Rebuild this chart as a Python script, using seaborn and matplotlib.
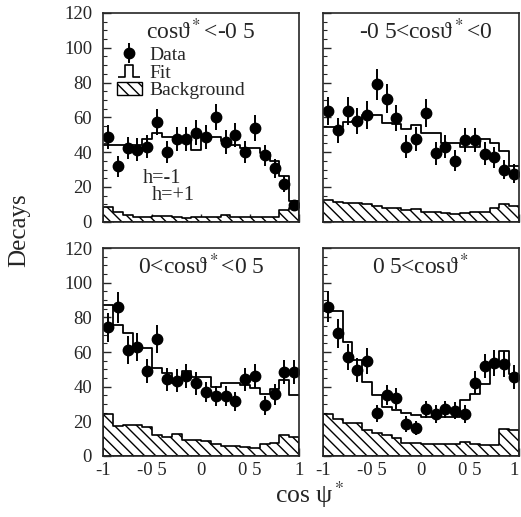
import numpy as np
import pandas as pd
import matplotlib
matplotlib.use("Agg")
import matplotlib.pyplot as plt
from matplotlib.path import Path
from matplotlib.lines import Line2D
from matplotlib.patches import Patch
from matplotlib.ticker import MultipleLocator
import seaborn as sns

# 20 bins in cos psi*, from -1 to 1
edges = np.linspace(-1, 1, 21)

titles = ["cos\u03d1$^*$<-0 5", "-0 5<cos\u03d1$^*$<0",
          "0<cos\u03d1$^*$<0 5", "0 5<cos\u03d1$^*$"]

data1 = [48.7, 31.9, 42.3, 41.5, 43.1, 57.3, 40.0, 47.7, 47.7, 51.2,
         48.7, 60.0, 45.8, 50.0, 40.2, 53.8, 38.1, 30.8, 21.7, 9.5]
err1 = [7, 6, 6.5, 6.5, 6.5, 7.5, 6.5, 7, 7, 7, 7, 7.5, 7, 7, 6.5, 7.5, 6, 5.5, 4.5, 3]
fit1 = [44.4, 44.4, 44.4, 44.4, 47.7, 51.2, 48.7, 48.7, 48.7, 41.0,
        48.7, 48.7, 46.3, 44.4, 42.5, 42.5, 39.6, 34.8, 26.1, 11.7]
bg1 = [8.5, 5.5, 4.0, 3.0, 3.0, 3.5, 3.5, 2.5, 2.0, 3.0,
       3.0, 2.5, 4.0, 3.0, 2.5, 2.5, 2.5, 2.5, 7.0, 8.0]

data2 = [63.5, 52.5, 63.7, 57.7, 61.2, 78.9, 70.8, 59.4, 43.1, 47.7,
         62.7, 39.4, 43.1, 35.0, 46.9, 46.9, 39.2, 37.1, 30.0, 27.7]
err2 = [8, 7, 8, 7.5, 8, 9, 8.5, 7.5, 6.5, 7, 8, 6.5, 6.5, 6, 7, 7, 6.5, 6, 5.5, 5.5]
fit2 = [54.6, 54.6, 57.3, 57.7, 61.2, 61.2, 56.8, 55.9, 53.5, 55.4,
        51.2, 51.2, 45.4, 45.4, 43.1, 43.1, 47.7, 45.4, 40.6, 32.0]
bg2 = [12.3, 11.5, 10.8, 10.8, 10.0, 8.8, 7.9, 7.9, 6.9, 7.3,
       5.9, 5.9, 5.0, 4.6, 5.0, 5.4, 5.9, 7.9, 10.4, 8.8]

data3 = [74.3, 85.8, 61.2, 63.1, 49.2, 67.5, 44.2, 43.5, 46.3, 41.9,
         36.9, 34.6, 34.6, 31.7, 44.2, 46.3, 29.2, 35.6, 48.3, 48.3]
err3 = [8.5, 9, 8, 8, 7, 8, 6.5, 6.5, 7, 6.5, 6, 6, 6, 5.5, 6.5, 7, 5.5, 6, 7, 7]
fit3 = [87.3, 75.6, 70.8, 62.2, 62.2, 50.7, 48.0, 42.0, 49.0, 45.4,
        45.4, 39.6, 41.9, 41.9, 41.0, 39.0, 35.6, 38.5, 43.9, 35.0]
bg3 = [24.2, 17.3, 17.7, 18.0, 16.9, 12.3, 11.2, 12.7, 9.2, 9.2,
       8.8, 6.9, 5.8, 5.8, 5.0, 4.4, 6.9, 7.7, 11.9, 11.2]

data4 = [86.2, 70.8, 56.9, 49.6, 54.8, 24.6, 35.2, 33.3, 18.5, 16.3,
         26.9, 24.2, 26.9, 26.2, 24.2, 42.3, 51.9, 53.8, 53.0, 45.8]
err4 = [9, 8.5, 7.5, 7, 7.5, 5, 6, 6, 4.5, 4, 5, 5, 5, 5, 5, 6.5, 7, 7.5, 7.5, 7]
fit4 = [83.7, 83.7, 66.0, 55.4, 42.9, 35.2, 28.1, 26.5, 25.0, 23.6,
        22.7, 22.7, 22.7, 22.7, 32.3, 36.0, 41.4, 54.4, 60.8, 47.6]
bg4 = [24.2, 21.2, 18.9, 18.9, 15.0, 13.1, 12.1, 10.2, 7.7, 7.7,
       6.9, 6.9, 7.2, 6.9, 8.1, 6.9, 6.2, 6.5, 15.8, 15.0]

xticks = [-1, -0.5, 0, 0.5, 1]
xticklabels = ["-1", "-0 5", "0", "0 5", "1"]
yticks = [0, 20, 40, 60, 80, 100, 120]

panels = [(data1, err1, fit1, bg1), (data2, err2, fit2, bg2),
          (data3, err3, fit3, bg3), (data4, err4, fit4, bg4)]

sns.set_style("ticks")
plt.rcParams["font.family"] = ["Liberation Serif", "DejaVu Serif"]
plt.rcParams["mathtext.fontset"] = "stix"
plt.rcParams["xtick.direction"] = "in"
plt.rcParams["ytick.direction"] = "in"
plt.rcParams["hatch.linewidth"] = 1.0

fig = plt.figure(figsize=(5.21, 5.17), dpi=100)
boxes = [[0.198, 0.571, 0.376, 0.404], [0.620, 0.571, 0.376, 0.404],
         [0.198, 0.118, 0.376, 0.402], [0.620, 0.118, 0.376, 0.402]]
title_x = [0.5, 0.525, 0.5, 0.495]
hatch = "\\\\\\"

centers = (edges[:-1] + edges[1:]) / 2
for i, (dat, err, fit, bg) in enumerate(panels):
    ax = fig.add_axes(boxes[i])
    df = pd.DataFrame({"x": centers, "fit": fit, "bg": bg})
    sns.histplot(data=df, x="x", weights="bg", bins=20, binrange=(-1, 1),
                 element="step", fill=True, color="black", facecolor="white",
                 hatch=hatch, linewidth=1.2, alpha=1, ax=ax)
    sns.histplot(data=df, x="x", weights="fit", bins=20, binrange=(-1, 1),
                 element="step", fill=False, color="black", linewidth=1.3, ax=ax)
    eb = ax.errorbar(centers, dat, yerr=err, fmt="o", color="black",
                     markersize=7.5, elinewidth=1.4, capsize=0)

    ax.set_xlim(-1, 1)
    ax.set_ylim(0, 120)
    ax.set_xlabel("")
    ax.set_ylabel("")
    ax.set_xticks(xticks)
    ax.set_yticks(yticks)
    ax.xaxis.set_minor_locator(MultipleLocator(0.1))
    ax.yaxis.set_minor_locator(MultipleLocator(5))
    ax.tick_params(which="major", length=6, width=1, labelsize=13.5)
    ax.tick_params(which="minor", length=3, width=0.8)
    ax.tick_params(axis="y", pad=8)
    ax.tick_params(axis="x", pad=4)
    if i >= 2:
        ax.set_xticklabels(xticklabels)
        if i == 3:
            ax.get_xticklabels()[-1].set_horizontalalignment("right")
    else:
        ax.set_xticklabels([])
    if i % 2 == 1:
        ax.set_yticklabels([])
    for s in ax.spines.values():
        s.set_linewidth(1.2)

    ax.text(title_x[i], 0.91, titles[i], transform=ax.transAxes,
            ha="center", va="center", fontsize=17)

    if i == 0:
        pulse = Path([(-1, -0.5), (-0.35, -0.5), (-0.35, 0.5), (0.35, 0.5),
                      (0.35, -0.5), (1, -0.5)])
        fit_h = Line2D([], [], marker=pulse, linestyle="none", color="black",
                       markerfacecolor="none", markersize=16, markeredgewidth=1.2)
        bg_h = Patch(facecolor="white", edgecolor="black", hatch=hatch)
        ax.legend([eb, fit_h, bg_h], ["Data", "Fit", "Background"],
                  loc="upper left", bbox_to_anchor=(0.0, 0.905), frameon=False,
                  fontsize=14, handlelength=1.3, handletextpad=0.4,
                  labelspacing=0.0, borderpad=0.2)
        ax.text(-0.6, 25, "h=-1", fontsize=14.5, va="center")
        ax.text(-0.5, 15, "h=+1", fontsize=14.5, va="center")

fig.text(0.036, 0.555, "Decays", rotation=90, ha="center", va="center",
         fontsize=18)
fig.text(0.595, 0.043, "cos \u03c8$^*$", ha="center", va="center", fontsize=18.5)

fig.savefig("out.png", dpi=100)
